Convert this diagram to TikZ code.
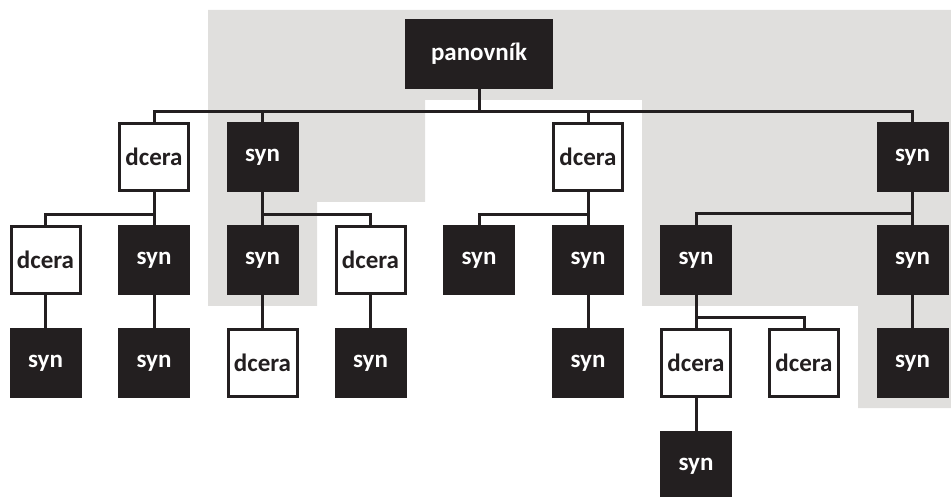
\documentclass[tikz,border=0pt]{standalone}
\usepackage{fontspec}
\setmainfont{Carlito}
\definecolor{ink}{HTML}{231F20}
\definecolor{lineagegrey}{HTML}{E0DFDD}
\tikzset{
  every node/.style={font=\bfseries\fontsize{25}{27}\selectfont},
  box/.style={rectangle, line width=3pt, minimum width=69pt, minimum height=67pt, inner sep=0pt},
  son/.style={box, fill=ink, draw=ink, text=white},
  daughter/.style={box, fill=white, draw=ink, text=ink},
  link/.style={draw=ink, line width=3pt, line join=miter},
}
\begin{document}
\begin{tikzpicture}[x=1pt, y=-1pt]
\useasboundingbox (0,0) rectangle (951,497);
% shaded male line
\fill[lineagegrey] (208,10) -- (951,10) -- (951,408) -- (858,408) -- (858,306) -- (642,306)
  -- (642,100) -- (425,100) -- (425,202) -- (317,202) -- (317,306) -- (208,306) -- cycle;

% ruler
\node[son, minimum width=145pt] (P) at (479,54) {panovník};

% first generation
\node[daughter] (A) at (154,157) {dcera};
\node[son]      (B) at (262.5,157) {syn};
\node[daughter] (C) at (588,157) {dcera};
\node[son]      (D) at (912.5,157) {syn};

% second generation
\node[daughter] (A1) at (45.5,260) {dcera};
\node[son]      (A2) at (154,260) {syn};
\node[son]      (B1) at (262.5,260) {syn};
\node[daughter] (B2) at (370.5,260) {dcera};
\node[son]      (C1) at (479,260) {syn};
\node[son]      (C2) at (588,260) {syn};
\node[son]      (D1) at (696,260) {syn};
\node[son]      (D2) at (912.5,260) {syn};

% third generation
\node[son]      (A1a) at (45.5,363) {syn};
\node[son]      (A2a) at (154,363) {syn};
\node[daughter] (B1a) at (262.5,363) {dcera};
\node[son]      (B2a) at (370.5,363) {syn};
\node[son]      (C2a) at (588,363) {syn};
\node[daughter] (D1a) at (696,363) {dcera};
\node[daughter] (D1b) at (804,363) {dcera};
\node[son]      (D2a) at (912.5,363) {syn};

% fourth generation
\node[son]      (D1aa) at (696,466) {syn};

% junctions
\coordinate (j0) at (479,112);
\coordinate (jA) at (154,215);
\coordinate (jB) at (262.5,215);
\coordinate (jC) at (588,215);
\coordinate (jD) at (912.5,214);
\coordinate (jD1) at (696,317);

% connectors
\draw[link] (P.south) -- (j0);
\draw[link] (A.north) |- (j0) -| (D.north);
\draw[link] (B.north) -- (B.north |- j0);
\draw[link] (C.north) -- (C.north |- j0);

\draw[link] (A.south) -- (A2.north);
\draw[link] (A1.north) |- (jA);
\draw[link] (B.south) -- (B1.north);
\draw[link] (jB) -| (B2.north);
\draw[link] (C.south) -- (C2.north);
\draw[link] (C1.north) |- (jC);
\draw[link] (D.south) -- (D2.north);
\draw[link] (D1.north) |- (jD);

\draw[link] (A1.south) -- (A1a.north);
\draw[link] (A2.south) -- (A2a.north);
\draw[link] (B1.south) -- (B1a.north);
\draw[link] (B2.south) -- (B2a.north);
\draw[link] (C2.south) -- (C2a.north);
\draw[link] (D1.south) -- (D1a.north);
\draw[link] (jD1) -| (D1b.north);
\draw[link] (D2.south) -- (D2a.north);

\draw[link] (D1a.south) -- (D1aa.north);
\end{tikzpicture}
\end{document}
